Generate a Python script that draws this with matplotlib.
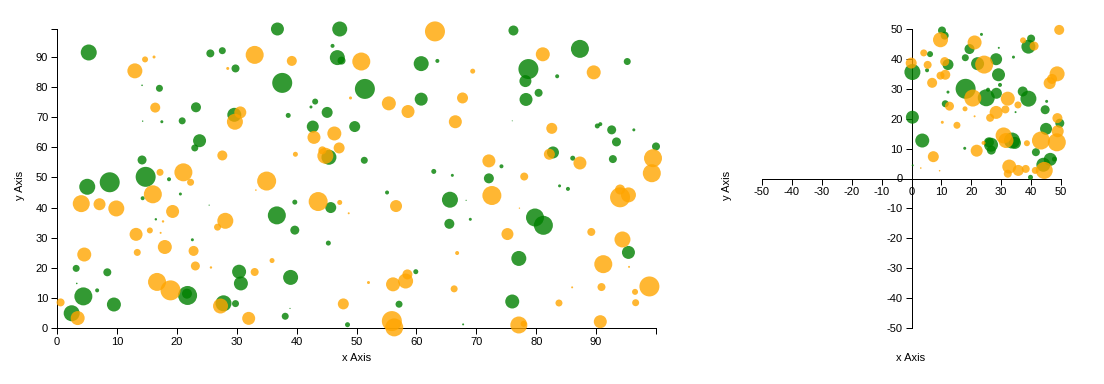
import matplotlib
matplotlib.use("Agg")
import matplotlib.pyplot as plt

plt.rcParams["font.family"] = ["Liberation Sans", "DejaVu Sans"]
plt.rcParams["axes.unicode_minus"] = False

# ---- left chart (0..100 domain) ----
left_green_x = [5.3, 25.6, 27.6, 29.8, 14.2, 17.1, 23.2, 14.3, 17.5, 20.9, 29.6, 23.8, 23.0, 14.2, 14.8,
                5.05, 8.8, 18.7, 14.3, 20.6, 25.4, 16.5, 22.6, 3.2, 8.4, 30.4, 30.7, 21.8, 21.7, 3.3,
                6.7, 4.4, 9.5, 2.45, 27.8, 29.8, 36.8, 47.2, 46.0, 46.8, 47.5, 60.8, 63.5, 37.6, 51.4,
                60.8, 43.1, 42.4, 45.1, 38.6, 42.7, 49.7, 45.4, 51.3, 62.9, 39.7, 45.7, 55.1, 65.6, 65.5,
                36.7, 39.7, 45.3, 39.0, 59.9, 38.9, 38.1, 57.1, 48.5, 76.2, 87.3, 95.2, 78.7, 78.2, 83.5,
                80.4, 78.3, 76.0, 90.2, 90.7, 92.6, 96.3, 93.4, 100.0, 82.8, 86.1, 92.8, 74.2, 72.1, 66.0,
                83.9, 85.3, 68.3, 69.0, 79.8, 81.2, 95.4, 77.1, 76.0, 67.8]
left_green_y = [91.5, 91.2, 92.1, 86.2, 80.6, 79.6, 73.3, 68.7, 68.5, 68.8, 70.8, 62.2, 59.8, 55.8, 50.2,
                46.9, 48.4, 49.4, 43.1, 44.5, 40.8, 36.1, 29.3, 19.8, 18.5, 18.7, 14.8, 10.8, 11.4, 14.8,
                12.5, 10.5, 7.8, 4.9, 8.2, 8.1, 99.3, 99.3, 93.7, 89.8, 88.8, 87.8, 88.7, 81.4, 79.4,
                76.0, 75.2, 73.4, 71.6, 70.6, 66.9, 66.9, 56.7, 55.7, 52.0, 41.8, 40.0, 45.0, 42.6, 34.6,
                37.4, 32.5, 28.2, 16.8, 18.7, 6.5, 3.9, 7.9, 1.1, 98.8, 92.7, 88.5, 86.0, 82.0, 83.6,
                78.1, 75.9, 68.8, 67.1, 67.7, 65.8, 65.8, 61.8, 60.3, 58.3, 56.4, 56.1, 53.7, 49.7, 50.7,
                47.2, 46.2, 42.4, 36.1, 36.7, 34.1, 25.1, 23.1, 8.8, 1.2]
left_green_r = [8, 4, 3.5, 4, 0.8, 3.5, 5, 0.7, 1.5, 3.5, 7, 6.5, 3.5, 4.5, 10,
                8, 10, 2, 2, 1.5, 0.6, 1.2, 1.5, 3.5, 4, 7, 7, 9.5, 5, 0.8,
                2, 9, 7, 8, 8, 3.5, 6.5, 7.5, 2, 7.5, 4, 7.5, 2, 10, 10,
                6.5, 3, 1.5, 5.5, 2.5, 6, 5.5, 7.5, 3.5, 2.5, 2.5, 5.5, 2, 8, 5,
                9, 4.5, 2.5, 7.5, 2.5, 0.6, 3.5, 3.5, 2.5, 5, 9, 3.5, 10, 6, 2,
                4, 6.5, 0.5, 2.5, 2, 4.5, 1.5, 4.5, 4, 6, 2.5, 4, 2, 5, 1.5,
                1.5, 2, 0.6, 1.5, 9, 9.5, 6.5, 7.5, 7, 1]

left_orange_x = [14.7, 16.2, 33.0, 13.0, 28.5, 16.4, 30.6, 29.7, 27.6, 17.2, 21.1, 22.3, 16.0, 4.05, 7.1,
                 9.9, 19.3, 28.1, 26.8, 17.7, 15.5, 17.3, 13.2, 18.0, 22.8, 13.4, 4.55, 23.1, 25.7, 16.7,
                 18.95, 0.6, 3.45, 27.3, 32.0, 63.1, 39.2, 50.8, 49.0, 55.4, 58.6, 46.3, 42.9, 47.1, 44.3,
                 44.8, 39.8, 35.0, 33.2, 43.6, 47.2, 48.7, 56.6, 35.9, 33.0, 52.0, 56.1, 58.2, 58.5, 47.8,
                 55.9, 56.3, 81.1, 69.4, 89.6, 67.7, 66.5, 82.6, 99.5, 82.2, 87.3, 72.1, 78.0, 99.3, 72.6,
                 94.0, 95.4, 94.0, 77.2, 75.2, 89.2, 94.4, 66.8, 91.2, 95.5, 98.9, 66.3, 86.0, 90.9, 96.5,
                 96.6, 83.8, 90.7, 77.1, 77.9]
left_orange_y = [89.2, 90.0, 90.7, 85.4, 86.2, 73.2, 71.6, 68.5, 57.3, 51.7, 51.7, 48.4, 44.4, 41.3, 41.1,
                 39.7, 38.7, 35.6, 33.5, 35.4, 32.4, 31.6, 31.1, 26.9, 25.6, 25.1, 24.4, 20.6, 20.1, 15.3,
                 12.5, 8.5, 3.3, 7.3, 3.2, 98.5, 88.7, 88.5, 76.4, 74.6, 71.9, 64.6, 63.3, 59.8, 59.0,
                 57.2, 57.7, 48.8, 45.8, 42.0, 41.7, 38.1, 40.5, 22.4, 18.6, 15.1, 14.5, 15.6, 17.8, 8.0,
                 2.3, 0.2, 90.9, 85.3, 84.9, 76.4, 68.5, 66.3, 56.4, 57.7, 54.8, 55.5, 50.3, 51.4, 44.0,
                 46.0, 44.2, 43.4, 39.8, 31.2, 31.9, 29.4, 24.9, 21.2, 20.3, 13.8, 13.0, 13.5, 13.6, 12.0,
                 8.4, 8.3, 2.1, 1.0, 1.4]
left_orange_r = [3, 1.5, 9, 7.5, 1.5, 5, 6, 8, 5, 3.5, 9, 3.5, 9, 8.5, 6,
                 8, 6.5, 8, 3.5, 1.2, 3, 1, 6.5, 7, 5, 3.5, 7, 4.5, 1.2, 9,
                 10, 4, 7, 7.5, 6.5, 10, 5, 9, 1.5, 7, 6.5, 7, 6.5, 5.5, 4,
                 8, 2.5, 9.5, 0.8, 9.5, 2.5, 1, 6, 2.5, 4, 1.5, 7, 7.5, 5, 5.5,
                 10, 9, 7, 2.5, 7, 5.5, 6.5, 5.5, 9, 5.5, 6.5, 6.5, 4, 9, 9.5,
                 5, 7.5, 10, 0.7, 6, 4, 8, 2, 9, 1, 10, 3.5, 1, 4, 3,
                 3.5, 3.5, 6.5, 8.5, 3]

# ---- right chart (-50..50 domain) ----
right_green_x = [10.2, 11.1, 23.4, 29.2, 40.0, 39.1, 19.4, 18.0, 6.2, 0.3, 5.2, 12.2, 22.1, 28.3, 29.1,
                 34.1, 29.6, 18.1, 25.0, 25.6, 28.4, 37.2, 39.1, 12.2, 11.3, 44.7, 45.2, 34.8, 49.6, 0.3,
                 45.0, 33.6, 34.6, 26.6, 25.9, 26.7, 3.6, 17.8, 41.6, 46.4, 47.8, 44.1, 39.8, 0.4]
right_green_y = [49.5, 47.8, 48.2, 43.7, 46.8, 44.1, 43.3, 40.4, 41.6, 35.6, 36.2, 38.1, 38.4, 39.9, 34.7,
                 40.6, 31.3, 30.0, 27.0, 29.7, 28.5, 29.1, 26.7, 28.9, 25.0, 23.0, 25.8, 22.2, 18.5, 20.5,
                 16.6, 12.7, 11.9, 11.3, 12.1, 9.5, 12.7, 10.1, 8.8, 6.4, 6.5, 4.6, 0.4, 4.4]
right_green_r = [4, 4, 1.5, 1, 4, 7, 5, 3.5, 3, 8, 2, 5.5, 6.5, 6, 6.5,
                 1.5, 2, 10, 8.5, 2, 5.5, 5, 8, 1.5, 3.5, 4.5, 1.5, 1, 4.5, 6.5,
                 6, 8, 6, 7, 5, 4.5, 7, 1.5, 4, 6.5, 2.5, 7, 2.5, 1]

right_orange_x = [9.7, 49.4, 21.1, 37.3, 41.0, 4.1, -0.1, 5.4, 11.1, 11.3, 9.7, 6.9, 24.3, 48.7, 47.0,
                  46.2, 20.5, 32.2, 35.6, 12.7, 17.9, 21.1, 28.3, 26.3, 31.4, 48.8, 10.3, 15.2, 48.9, 30.8,
                  31.6, 24.1, 38.6, 43.3, 48.6, 21.8, 7.3, 32.7, 35.7, 38.2, 32.2, 41.4, 44.4, 3.1, 9.4]
right_orange_y = [46.4, 49.7, 45.5, 46.2, 44.3, 42.0, 38.6, 38.0, 39.1, 34.7, 34.4, 32.0, 38.1, 35.0, 33.3,
                  31.9, 26.9, 26.7, 24.6, 24.2, 23.3, 20.8, 22.1, 20.3, 23.1, 20.2, 18.8, 17.8, 15.8, 14.4,
                  12.7, 11.9, 11.8, 12.7, 12.1, 9.3, 7.3, 4.0, 2.7, 3.2, 1.6, 2.7, 2.7, 3.5, 2.6]
right_orange_r = [7.5, 5, 7, 3, 4.5, 3.5, 5.5, 4, 4.5, 5, 4, 5, 9, 7.5, 5,
                  6, 8.5, 7, 3.5, 4.5, 2.5, 1, 6.5, 4, 4, 5, 1.5, 3.5, 6, 8,
                  7.5, 2, 3, 9, 9, 6, 5.5, 7, 5.5, 4, 4, 3.5, 8.5, 0.8, 0.8]

left_ticks = list(range(0, 100, 10))
right_ticks = list(range(-50, 51, 10))

GREEN = "#008000"
ORANGE = "#ffa500"
DPI = 100
TICK_LEN = 6 * 72 / DPI
LW = 1 * 72 / DPI


def sizes(radii):
    # radius in px -> scatter area in pt^2
    return [(2 * r * 72 / DPI) ** 2 for r in radii]


def bubbles(ax, x, y, r, color):
    ax.scatter(x, y, s=sizes(r), c=color, alpha=0.8, linewidths=0,
               clip_on=False, zorder=3)


def style_axis(ax):
    for side in ("left", "bottom"):
        ax.spines[side].set_linewidth(LW)
    ax.spines["top"].set_visible(False)
    ax.spines["right"].set_visible(False)
    ax.tick_params(which="both", direction="out", length=TICK_LEN, width=LW,
                   labelsize=8, pad=2, colors="black")


fig = plt.figure(figsize=(1104 / DPI, 384 / DPI), dpi=DPI)

# left chart
ax1 = fig.add_axes([57 / 1104, 1 - 328 / 384, 599 / 1104, 299 / 384])
ax1.set_xlim(0, 100)
ax1.set_ylim(0, 99.3)
bubbles(ax1, left_green_x, left_green_y, left_green_r, GREEN)
bubbles(ax1, left_orange_x, left_orange_y, left_orange_r, ORANGE)
style_axis(ax1)
ax1.set_xticks(left_ticks)
ax1.set_yticks(left_ticks)
ax1.set_xticks([100], minor=True)
ax1.set_yticks([99.3], minor=True)
ax1.patch.set_visible(False)

# right chart
ax2 = fig.add_axes([762 / 1104, 1 - 328 / 384, 299 / 1104, 299 / 384])
ax2.set_xlim(-50, 50)
ax2.set_ylim(-50, 50)
bubbles(ax2, right_green_x, right_green_y, right_green_r, GREEN)
bubbles(ax2, right_orange_x, right_orange_y, right_orange_r, ORANGE)
style_axis(ax2)
ax2.spines["left"].set_position(("data", 0))
ax2.spines["bottom"].set_position(("data", 0))
ax2.set_xticks(right_ticks)
ax2.set_yticks(right_ticks)
ax2.patch.set_visible(False)

fig.text(20 / 1104, 1 - 185 / 384, "y Axis", rotation=90, ha="center", va="center", fontsize=8)
fig.text(357 / 1104, 1 - 358 / 384, "x Axis", ha="center", va="center", fontsize=8)
fig.text(727 / 1104, 1 - 185 / 384, "y Axis", rotation=90, ha="center", va="center", fontsize=8)
fig.text(911 / 1104, 1 - 358 / 384, "x Axis", ha="center", va="center", fontsize=8)

fig.savefig("out.png", dpi=DPI)
plt.close(fig)
